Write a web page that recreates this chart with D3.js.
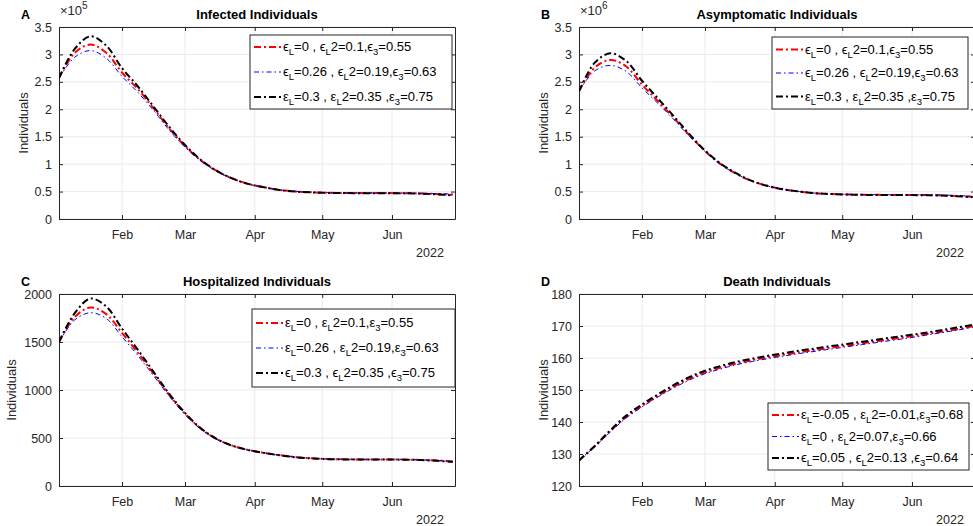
<!DOCTYPE html>
<html>
<head>
<meta charset="utf-8">
<script src="https://cdn.jsdelivr.net/npm/d3@7"></script>
<style>
body { margin: 0; background: #fff; }
text { font-family: "Liberation Sans", Arial, sans-serif; }
</style>
</head>
<body>
<script>
var width = 973;
var height = 526;

// sample dates (weekly)
var dates = ["2022-01-04","2022-01-11","2022-01-18","2022-01-25","2022-02-01","2022-02-08","2022-02-15",
    "2022-02-22","2022-03-01","2022-03-08","2022-03-15","2022-03-22","2022-03-29","2022-04-05","2022-04-12",
    "2022-04-19","2022-04-26","2022-05-03","2022-05-10","2022-05-17","2022-05-24","2022-05-31","2022-06-07",
    "2022-06-14","2022-06-21","2022-06-28"];

// A: infected (x10^5)
var infectedRed   = [2.57,3.03,3.18,3.03,2.67,2.37,2.02,1.65,1.33,1.07,0.88,0.74,0.64,0.58,0.53,0.50,0.487,0.479,0.475,0.473,0.472,0.472,0.470,0.465,0.455,0.44];
var infectedBlue  = [2.57,2.95,3.07,2.93,2.60,2.31,1.98,1.62,1.31,1.06,0.87,0.735,0.64,0.58,0.53,0.505,0.49,0.482,0.478,0.476,0.475,0.475,0.474,0.47,0.463,0.455];
var infectedBlack = [2.57,3.10,3.33,3.16,2.75,2.42,2.05,1.68,1.35,1.08,0.88,0.74,0.64,0.58,0.53,0.50,0.485,0.477,0.473,0.471,0.47,0.47,0.468,0.461,0.448,0.43];

// B: asymptomatic (x10^6)
var asymRed   = [2.33,2.76,2.90,2.78,2.45,2.15,1.85,1.53,1.24,1.00,0.82,0.69,0.60,0.54,0.50,0.47,0.456,0.447,0.442,0.44,0.439,0.438,0.436,0.431,0.42,0.405];
var asymBlue  = [2.33,2.70,2.80,2.69,2.39,2.11,1.82,1.51,1.23,0.99,0.82,0.69,0.60,0.54,0.50,0.472,0.458,0.45,0.445,0.443,0.442,0.441,0.44,0.436,0.428,0.415];
var asymBlack = [2.33,2.85,3.02,2.88,2.52,2.20,1.88,1.55,1.25,1.01,0.83,0.69,0.60,0.54,0.50,0.47,0.455,0.445,0.44,0.438,0.437,0.436,0.433,0.428,0.415,0.40];

// C: hospitalized
var hospRed   = [1500,1760,1860,1790,1595,1390,1170,950,755,598,490,420,376,346,321,301,289,281,278,277,276,276,275,271,265,256];
var hospBlue  = [1500,1730,1805,1745,1555,1360,1150,935,745,592,487,419,376,346,322,302,290,283,279,278,277,277,276,273,267,259];
var hospBlack = [1500,1800,1952,1870,1640,1420,1190,960,762,602,491,420,375,345,320,300,288,280,277,276,275,275,274,270,262,250];

// D: deaths
var deathRed   = [128,132.4,137.2,141.6,145.0,148.1,151.0,153.5,155.5,157.0,158.3,159.3,160.2,161.0,161.8,162.5,163.2,163.9,164.6,165.3,166.0,166.7,167.4,168.2,169.0,169.9];
var deathBlue  = [128,132.3,137.0,141.3,144.7,147.8,150.6,153.1,155.1,156.6,157.9,158.9,159.8,160.6,161.4,162.1,162.8,163.5,164.2,164.9,165.6,166.3,167.1,167.9,168.7,169.6];
var deathBlack = [128,132.5,137.5,142.0,145.5,148.6,151.5,154.0,156.0,157.5,158.8,159.8,160.7,161.5,162.3,163.0,163.7,164.4,165.1,165.8,166.5,167.2,167.9,168.7,169.5,170.4];

var monthTicks = ["2022-02-01","2022-03-01","2022-04-01","2022-05-01","2022-06-01"];
var xStart = "2022-01-04";
var xEnd = "2022-06-29";

var yTicksA = [0,0.5,1,1.5,2,2.5,3,3.5];
var yTicksC = [0,500,1000,1500,2000];
var yTicksD = [120,130,140,150,160,170,180];

var legendAB = [["ϵ","=0 , ","ϵ","2=0.1,","ϵ","=0.55"],
                ["ϵ","=0.26 , ","ϵ","2=0.19,","ϵ","=0.63"],
                ["ε","=0.3 , ","ε","2=0.35 ,","ε","=0.75"]];
var legendC  = [["ε","=0 , ","ε","2=0.1,","ε","=0.55"],
                ["ε","=0.26 , ","ε","2=0.19,","ε","=0.63"],
                ["ϵ","=0.3 , ","ϵ","2=0.35 ,","ϵ","=0.75"]];
var legendD  = [["ε","=-0.05 , ","ε","2=-0.01,","ε","=0.68"],
                ["ε","=0 , ","ε","2=0.07,","ε","=0.66"],
                ["ϵ","=0.05 , ","ϵ","2=0.13 ,","ϵ","=0.64"]];

var parse = d3.timeParse("%Y-%m-%d");
var fmtMonth = d3.timeFormat("%b");

var styles = [
    {color: "#ff0000", w: 2, dash: "7,3,2,3"},
    {color: "#0000ff", w: 1, dash: "5,3,1.5,3"},
    {color: "#000000", w: 2, dash: "7,3,2,3"}
];

var panels = [
    {id: "A", title: "Infected Individuals", left: 59, top: 27, exp: "5", ymin: 0, ymax: 3.5, ticks: yTicksA,
     series: [infectedRed, infectedBlue, infectedBlack], legend: legendAB, lx: 250, ly: 35, lw: 202, lh: 74, rowH: 25, labX: -31},
    {id: "B", title: "Asymptomatic Individuals", left: 579, top: 27, exp: "6", ymin: 0, ymax: 3.5, ticks: yTicksA,
     series: [asymRed, asymBlue, asymBlack], legend: legendAB, lx: 772, ly: 37, lw: 196, lh: 72, rowH: 23.5, labX: -31},
    {id: "C", title: "Hospitalized Individuals", left: 59, top: 294, exp: null, ymin: 0, ymax: 2000, ticks: yTicksC,
     series: [hospRed, hospBlue, hospBlack], legend: legendC, lx: 252, ly: 309, lw: 203, lh: 78, rowH: 25, labX: -43},
    {id: "D", title: "Death Individuals", left: 579, top: 294, exp: null, ymin: 120, ymax: 180, ticks: yTicksD,
     series: [deathRed, deathBlue, deathBlack], legend: legendD, lx: 768, ly: 403, lw: 201, lh: 67, rowH: 21.5, labX: -31}
];

var pw = 396, ph = 192;

var svg = d3.select("body").append("svg")
    .attr("width", width)
    .attr("height", height);

var defs = svg.append("defs");

panels.forEach(function(p) {
    var x = d3.scaleTime().domain([parse(xStart), parse(xEnd)]).range([0, pw]);
    var y = d3.scaleLinear().domain([p.ymin, p.ymax]).range([ph, 0]);
    var g = svg.append("g").attr("transform", "translate(" + p.left + "," + p.top + ")");

    defs.append("clipPath").attr("id", "clip" + p.id)
        .append("rect").attr("width", pw).attr("height", ph);

    var mt = monthTicks.map(parse);

    // grid
    g.append("g").selectAll("line").data(mt).enter().append("line")
        .attr("x1", function(d) { return x(d); }).attr("x2", function(d) { return x(d); })
        .attr("y1", 0).attr("y2", ph)
        .attr("stroke", "#ebebeb");
    g.append("g").selectAll("line").data(p.ticks).enter().append("line")
        .attr("x1", 0).attr("x2", pw)
        .attr("y1", function(d) { return y(d); }).attr("y2", function(d) { return y(d); })
        .attr("stroke", "#ebebeb");

    // axes (ticks inward)
    var xAxis = d3.axisBottom(x).tickValues(mt).tickFormat(fmtMonth).tickSizeInner(-4).tickSizeOuter(0).tickPadding(11);
    var gx = g.append("g").attr("transform", "translate(0," + ph + ")").call(xAxis);
    var xTop = d3.axisTop(x).tickValues(mt).tickFormat("").tickSizeInner(-4).tickSizeOuter(0);
    var gxt = g.append("g").call(xTop);
    var yAxis = d3.axisLeft(y).tickValues(p.ticks).tickSizeInner(-4).tickSizeOuter(0).tickPadding(7)
        .tickFormat(function(d) { return d3.format("~g")(d); });
    var gy = g.append("g").call(yAxis);
    var yRight = d3.axisRight(y).tickValues(p.ticks).tickFormat("").tickSizeInner(-4).tickSizeOuter(0);
    var gyr = g.append("g").attr("transform", "translate(" + pw + ",0)").call(yRight);

    [gx, gxt, gy, gyr].forEach(function(a) {
        a.select(".domain").attr("stroke", "#262626");
        a.selectAll(".tick line").attr("stroke", "#262626");
        a.selectAll(".tick text").attr("fill", "#262626").style("font-size", "12.5px")
            .style("font-family", "'Liberation Sans', Arial, sans-serif");
    });

    g.append("text").attr("x", pw - 25).attr("y", ph + 38)
        .attr("text-anchor", "middle").attr("fill", "#262626").style("font-size", "12.5px")
        .text("2022");

    // curves
    var lineGen = d3.line()
        .x(function(d, i) { return x(parse(dates[i])); })
        .y(function(d) { return y(d); })
        .curve(d3.curveCatmullRom.alpha(0.5));

    var lines = g.append("g").attr("clip-path", "url(#clip" + p.id + ")");
    p.series.forEach(function(s, i) {
        lines.append("path")
            .attr("d", lineGen(s))
            .attr("fill", "none")
            .attr("stroke", styles[i].color)
            .attr("stroke-width", styles[i].w)
            .attr("stroke-dasharray", styles[i].dash);
    });

    // titles and labels
    g.append("text").attr("x", pw / 2).attr("y", -8)
        .attr("text-anchor", "middle").style("font-size", "13px").style("font-weight", "bold")
        .attr("fill", "#000").text(p.title);
    g.append("text").attr("x", -38).attr("y", -8)
        .style("font-size", "12.5px").style("font-weight", "bold").attr("fill", "#000").text(p.id);
    g.append("text").attr("transform", "translate(" + p.labX + "," + (ph / 2) + ")rotate(-90)")
        .attr("text-anchor", "middle").style("font-size", "13px").attr("fill", "#262626")
        .text("Individuals");

    if (p.exp) {
        var et = g.append("text").attr("x", 1).attr("y", -12).style("font-size", "13px").attr("fill", "#262626");
        et.append("tspan").text("×10");
        et.append("tspan").attr("dy", -6).style("font-size", "10px").text(p.exp);
    }

    // legend
    var lg = svg.append("g").attr("transform", "translate(" + p.lx + "," + p.ly + ")");
    lg.append("rect").attr("width", p.lw).attr("height", p.lh)
        .attr("fill", "#fff").attr("stroke", "#262626").attr("stroke-width", 1);
    p.legend.forEach(function(parts, i) {
        var cy = p.lh / 2 + (i - 1) * p.rowH;
        lg.append("line").attr("x1", 4).attr("x2", 31).attr("y1", cy).attr("y2", cy)
            .attr("stroke", styles[i].color).attr("stroke-width", styles[i].w)
            .attr("stroke-dasharray", styles[i].dash);
        var t = lg.append("text").attr("x", 33).attr("y", cy + 4)
            .style("font-size", "13px").attr("fill", "#000");
        parts.forEach(function(part, j) {
            if (j % 2 === 0) {
                t.append("tspan").text(part);
                t.append("tspan").attr("dy", 4).style("font-size", "9.5px").text(j < 4 ? "L" : "3");
            } else {
                t.append("tspan").attr("dy", -4).text(part);
            }
        });
    });
});
</script>
</body>
</html>
